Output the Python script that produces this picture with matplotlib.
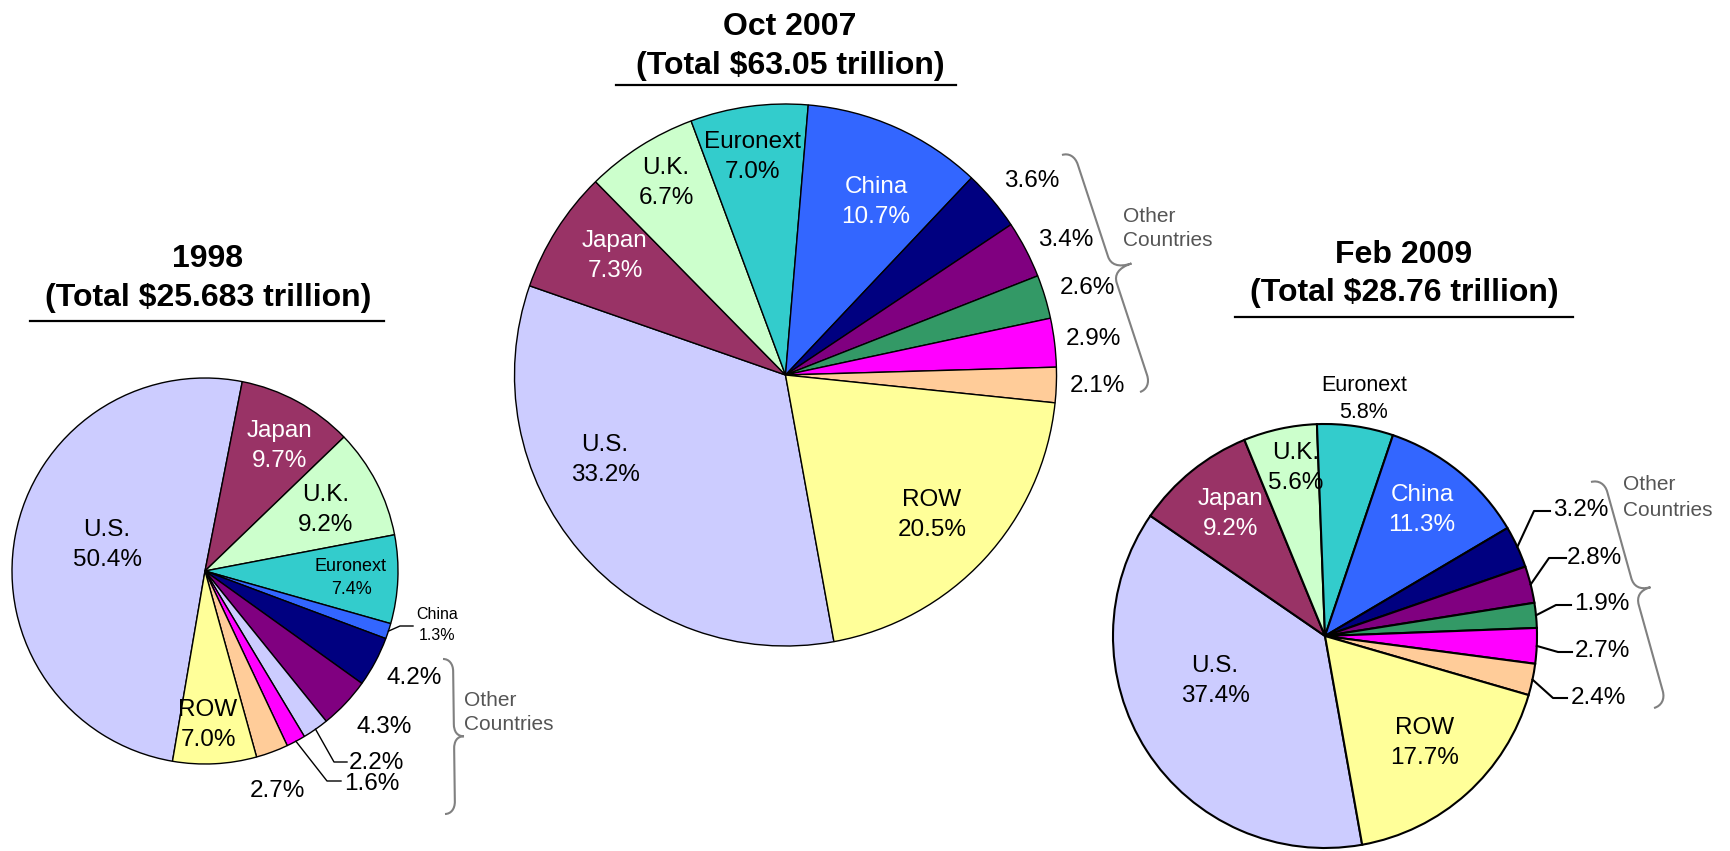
import numpy as np
import matplotlib
matplotlib.use("Agg")
import matplotlib.pyplot as plt
from matplotlib.path import Path
from matplotlib.patches import PathPatch

plt.rcParams["font.family"] = ["Liberation Sans", "DejaVu Sans"]

W, H = 1730, 851

# data
markets = ["U.S.", "Japan", "U.K.", "Euronext", "China",
           "Other 1", "Other 2", "Other 3", "Other 4", "Other 5", "ROW"]
share_1998 = [50.4, 9.7, 9.2, 7.4, 1.3, 4.2, 4.3, 2.2, 1.6, 2.7, 7.0]
share_2007 = [33.2, 7.3, 6.7, 7.0, 10.7, 3.6, 3.4, 2.6, 2.9, 2.1, 20.5]
share_2009 = [37.4, 9.2, 5.6, 5.8, 11.3, 3.2, 2.8, 1.9, 2.7, 2.4, 17.7]
periods = ["1998", "Oct 2007", "Feb 2009"]
totals = ["25.683", "63.05", "28.76"]

colors = ["#CCCCFF", "#993366", "#CCFFCC", "#33CCCC", "#3366FF",
          "#000080", "#800080", "#339966", "#FF00FF", "#FFCC99", "#FFFF99"]
colors_1998 = colors[:7] + ["#CCCCFF"] + colors[8:]

# layout (pixel positions, y measured from the top)
# labels: (slice index, x, y, fontsize, colour, show name, ha)
pies = [
    dict(shares=share_1998, colors=colors_1998, center=(205, 571), r=193,
         start=189.7, lw=1.0, title_x=208, title_y=(259, 298), rule=(30, 384, 321),
         labels=[(0, 107, 545, 17.5, "black", True, "center"),
                 (1, 280, 446, 17.5, "white", True, "center"),
                 (2, 326, 510, 17.5, "black", True, "center"),
                 (3, 351, 578, 13, "black", True, "center"),
                 (4, 437, 625, 11.5, "black", True, "center"),
                 (5, 414, 678, 17.5, "black", False, "center"),
                 (6, 384, 727, 17.5, "black", False, "center"),
                 (7, 349, 763, 17.5, "black", False, "left"),
                 (8, 344, 784, 17.5, "black", False, "left"),
                 (9, 277, 791, 17.5, "black", False, "center"),
                 (10, 208, 725, 17.5, "black", True, "center")],
         leaders=[(4, (400, 626), 413), (7, (334, 762), 347), (8, (327, 781), 341)],
         brace=((443, 659), (445, 814), 10, 20), other_xy=(464, 700)),
    dict(shares=share_2007, colors=colors, center=(785.5, 375), r=271,
         start=169.7, lw=1.0, title_x=790, title_y=(27, 66), rule=(616, 956, 85),
         labels=[(0, 605, 460, 17.5, "black", True, "center"),
                 (1, 615, 256, 17.5, "white", True, "center"),
                 (2, 666, 183, 17.5, "black", True, "center"),
                 (3, 753, 157, 17.5, "black", True, "center"),
                 (4, 876, 202, 17.5, "white", True, "center"),
                 (5, 1032, 181, 17.5, "black", False, "center"),
                 (6, 1066, 240, 17.5, "black", False, "center"),
                 (7, 1087, 288, 17.5, "black", False, "center"),
                 (8, 1093, 339, 17.5, "black", False, "center"),
                 (9, 1097, 386, 17.5, "black", False, "center"),
                 (10, 932, 515, 17.5, "black", True, "center")],
         leaders=[],
         brace=((1062, 155), (1140, 392), 12, 32), other_xy=(1123, 216)),
    dict(shares=share_2009, colors=colors, center=(1325, 636), r=212,
         start=169.9, lw=1.5, title_x=1404, title_y=(255, 293), rule=(1235, 1573, 317),
         labels=[(0, 1215, 681, 17.5, "black", True, "center"),
                 (1, 1231, 514, 17.5, "white", True, "center"),
                 (2, 1296, 468, 17.5, "black", True, "center"),
                 (3, 1364, 399, 15.5, "black", True, "center"),
                 (4, 1422, 510, 17.5, "white", True, "center"),
                 (5, 1553, 510, 17.5, "black", False, "left"),
                 (6, 1567, 558, 17.5, "black", False, "left"),
                 (7, 1574, 604, 17.5, "black", False, "left"),
                 (8, 1575, 651, 17.5, "black", False, "left"),
                 (9, 1571, 698, 17.5, "black", False, "left"),
                 (10, 1425, 743, 17.5, "black", True, "center")],
         leaders=[(5, (1534, 511), 1550), (6, (1549, 558), 1566), (7, (1556, 605), 1571),
                  (8, (1558, 652), 1572), (9, (1553, 698), 1567)],
         brace=((1591, 482), (1654, 708), 13, 29), other_xy=(1623, 485)),
]


def brace_path(p0, p1, a, w):
    p0 = np.array(p0, float)
    p1 = np.array(p1, float)
    d = p1 - p0
    L = np.hypot(*d)
    u = d / L
    v = np.array([u[1], -u[0]])
    c = min(0.08 * L, 14)
    m = L / 2
    k = a + 0.3 * (w - a)
    uv = [(0, 0), (0, 0.6 * a), (0.4 * c, a), (c, a),
          (m - c, a),
          (m - 0.4 * c, a), (m, k), (m, w),
          (m, k), (m + 0.4 * c, a), (m + c, a),
          (L - c, a),
          (L - 0.4 * c, a), (L, 0.6 * a), (L, 0)]
    codes = [Path.MOVETO] + [Path.CURVE4] * 3 + [Path.LINETO] + [Path.CURVE4] * 6 \
        + [Path.LINETO] + [Path.CURVE4] * 3
    verts = []
    for s, t in uv:
        x, y = p0 + s * u + t * v
        verts.append((x, H - y))
    return Path(verts, codes)


fig = plt.figure(figsize=(W / 100, H / 100), dpi=100)
ax = fig.add_axes([0, 0, 1, 1])

for k, p in enumerate(pies):
    cx, cy = p["center"]
    r = p["r"]
    ax.pie(p["shares"], colors=p["colors"], center=(cx, H - cy), radius=r,
           startangle=90 - p["start"], counterclock=False,
           wedgeprops=dict(edgecolor="black", linewidth=p["lw"]))

    # titles
    tx = p["title_x"]
    ax.text(tx, H - p["title_y"][0], periods[k], ha="center", va="center",
            fontsize=23, fontweight="bold")
    ax.text(tx, H - p["title_y"][1], "(Total \\$" + totals[k] + " trillion)",
            ha="center", va="center", fontsize=23, fontweight="bold")
    x0, x1, yr = p["rule"]
    ax.plot([x0, x1], [H - yr, H - yr], color="black", lw=1.6)

    # slice labels
    for i, x, y, fs, col, named, ha in p["labels"]:
        pct = f"{p['shares'][i]:.1f}%"
        if named:
            gap = 1.75 * fs
            ax.text(x, H - (y - gap / 2), markets[i], ha=ha, va="center",
                    fontsize=fs, color=col)
            ax.text(x, H - (y + gap / 2), pct, ha=ha, va="center",
                    fontsize=fs, color=col)
        else:
            ax.text(x, H - y, pct, ha=ha, va="center", fontsize=fs, color=col)

    # leader lines from slice middles
    s = np.array(p["shares"])
    ang = s / s.sum() * 360
    mids = np.radians(p["start"] + np.cumsum(ang) - ang / 2)
    for i, (ex, ey), endx in p["leaders"]:
        sx = cx + r * np.sin(mids[i])
        sy = cy - r * np.cos(mids[i])
        ax.plot([sx, ex, endx], [H - sy, H - ey, H - ey], color="black", lw=p["lw"])

    # brace + "Other Countries"
    b0, b1, ba, bw = p["brace"]
    ax.add_patch(PathPatch(brace_path(b0, b1, ba, bw), fill=False,
                           edgecolor="#808080", lw=1.5))
    ox, oy = p["other_xy"]
    ax.text(ox, H - oy, "Other", ha="left", va="center", fontsize=15, color="#555555")
    ax.text(ox, H - (oy + 25), "Countries", ha="left", va="center", fontsize=15,
            color="#555555")

ax.set_xlim(0, W)
ax.set_ylim(0, H)
ax.set_aspect("auto")
ax.axis("off")

fig.savefig("out.png", dpi=100)
